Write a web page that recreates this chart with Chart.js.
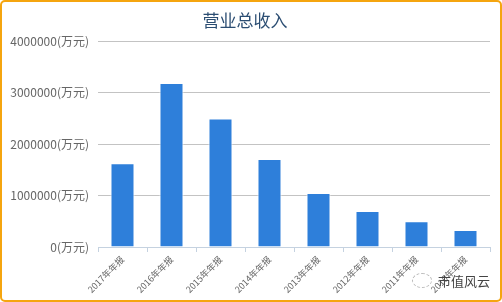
<!DOCTYPE html>
<html>
<head>
<meta charset="utf-8">
<script src="https://cdn.jsdelivr.net/npm/chart.js@4/dist/chart.umd.min.js"></script>
<style>
  html, body { margin: 0; padding: 0; background: #fff; }
  #wrap { position: relative; width: 502px; height: 302px; }
  #frame {
    position: absolute; left: 0; top: 0; width: 502px; height: 302px;
    box-sizing: border-box; border: 2px solid #f5a50f; border-radius: 5px;
    pointer-events: none;
  }
  #mark {
    position: absolute; left: 412px; top: 270px; height: 20px;
    font-family: "Noto Sans CJK SC", sans-serif; font-size: 13px; color: #444;
    display: flex; align-items: center;
  }
  #mark .icon {
    width: 18px; height: 13px; border: 1px dashed #bbb; border-radius: 50%;
    margin-right: 6px;
  }
</style>
</head>
<body>
<div id="wrap">
  <canvas id="revChart" width="502" height="302"></canvas>
  <div id="frame"></div>
  <div id="mark"><span class="icon"></span><span>市值风云</span></div>
</div>
<script>
// 营业总收入 (万元)
const years = ['2017年年报', '2016年年报', '2015年年报', '2014年年报', '2013年年报', '2012年年报', '2011年年报', '2010年年报'];
const revenue = [1630000, 3190000, 2500000, 1710000, 1050000, 700000, 500000, 330000];
const yTicks = [0, 1000000, 2000000, 3000000, 4000000];

const cjk = '"Noto Sans CJK SC", "Noto Sans", sans-serif';

new Chart(document.getElementById('revChart'), {
  type: 'bar',
  data: {
    labels: years,
    datasets: [{
      label: '营业总收入',
      data: revenue,
      backgroundColor: '#2e7fda',
      borderColor: '#ffffff',
      borderWidth: 1,
      categoryPercentage: 1,
      barPercentage: 0.49
    }]
  },
  options: {
    responsive: false,
    animation: false,
    layout: { padding: { top: 0, right: 12, bottom: 4, left: 0 } },
    plugins: {
      legend: { display: false },
      tooltip: { enabled: false },
      title: {
        display: true,
        text: '营业总收入',
        color: '#2b4d72',
        font: { family: cjk, size: 17, weight: 'normal' },
        padding: { top: 10, bottom: 11 }
      }
    },
    scales: {
      x: {
        afterFit: s => { s.height = 51; },
        grid: {
          offset: true,
          drawOnChartArea: false,
          tickLength: 5,
          color: '#c5d2e0'
        },
        border: { color: '#c5d2e0', width: 1 },
        ticks: {
          minRotation: 45,
          maxRotation: 45,
          padding: 2,
          color: '#666',
          font: { family: cjk, size: 9 }
        }
      },
      y: {
        min: 0,
        max: 4000000,
        afterFit: s => { s.width = 98; },
        afterBuildTicks: s => { s.ticks = yTicks.map(v => ({ value: v })); },
        grid: {
          drawTicks: false,
          color: c => (c.tick && c.tick.value === 0) ? 'rgba(0,0,0,0)' : '#c3c3c3'
        },
        border: { display: false },
        ticks: {
          padding: 9,
          color: '#666',
          font: { family: cjk, size: 12 },
          callback: v => v + '(万元)'
        }
      }
    }
  }
});
</script>
</body>
</html>
